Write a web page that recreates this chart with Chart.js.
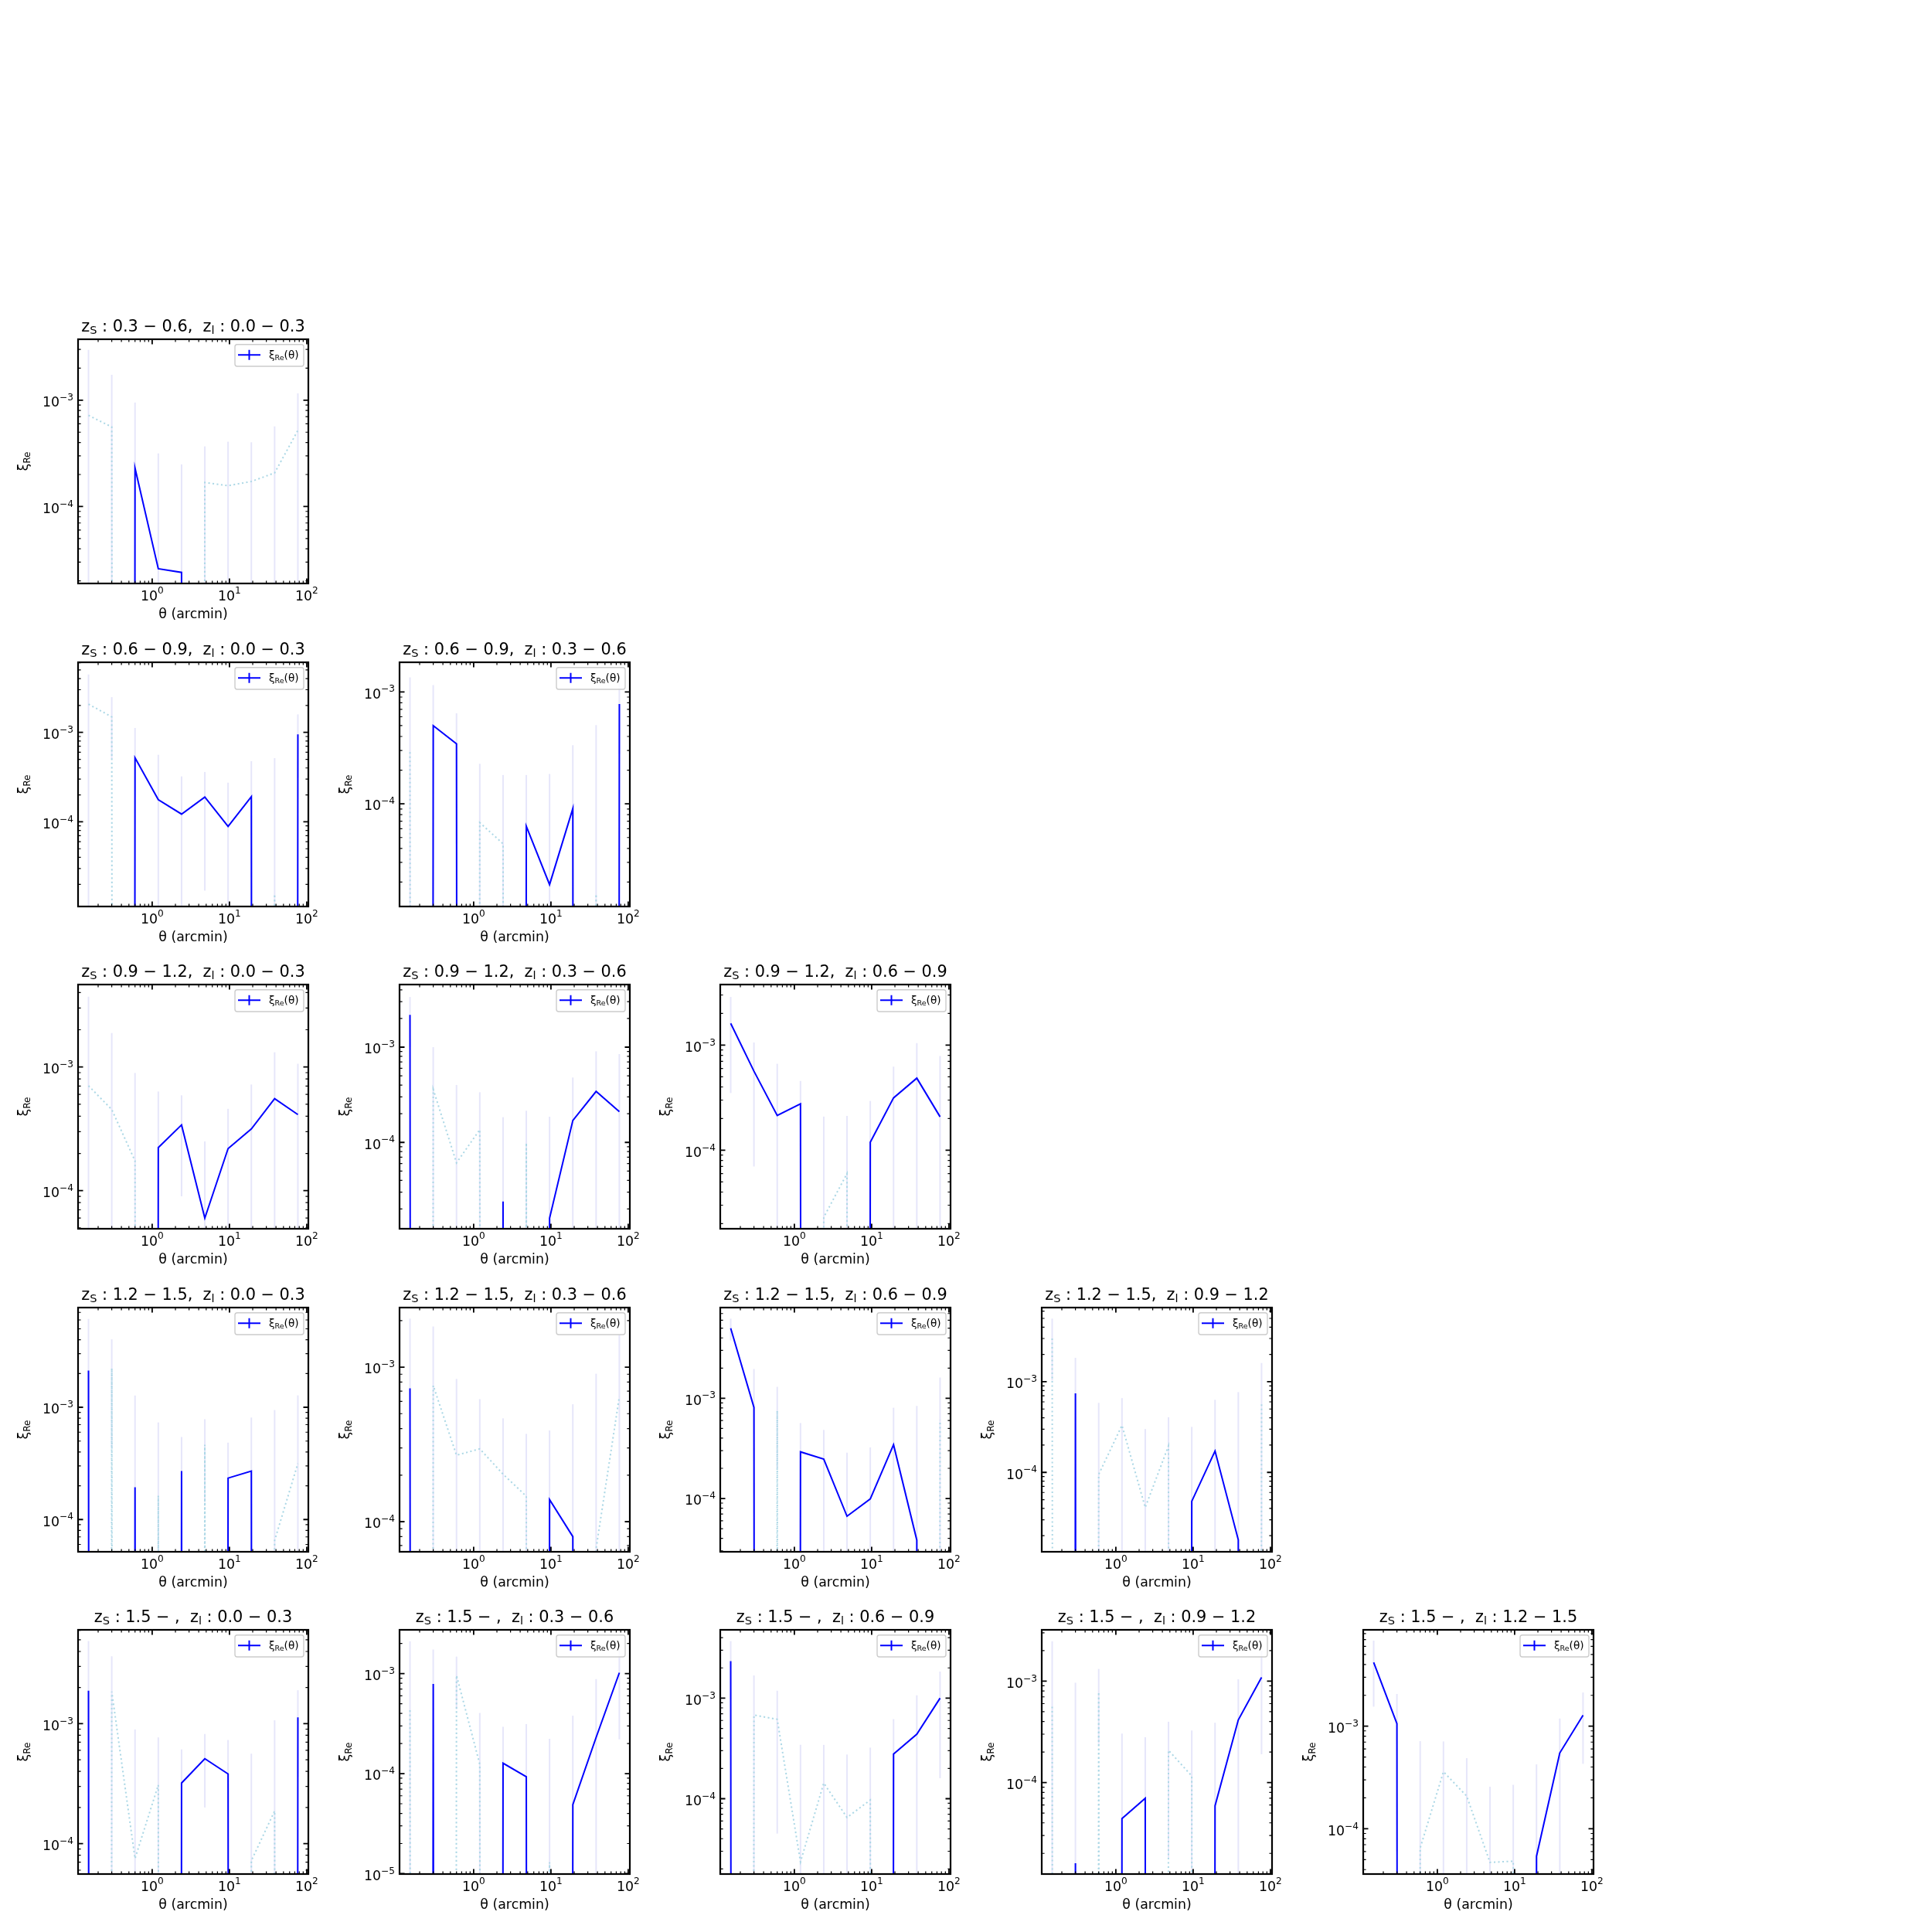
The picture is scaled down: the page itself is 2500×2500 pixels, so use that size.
<!DOCTYPE html>
<html>
<head>
<meta charset="utf-8">
<script src="https://cdn.jsdelivr.net/npm/chart.js@4.4.1/dist/chart.umd.min.js"></script>
<style>
  html, body { margin: 0; padding: 0; background: #ffffff; }
  body { width: 2500px; height: 2500px; position: relative; overflow: hidden; }
  canvas { position: absolute; }
</style>
</head>
<body>
<script>
// ---------------- data ----------------
const theta = [0.15, 0.3, 0.6, 1.2, 2.4, 4.8, 9.6, 19.2, 38.4, 76.8];
const zsLabels = ['0.3 − 0.6', '0.6 − 0.9', '0.9 − 1.2', '1.2 − 1.5', '1.5 − '];
const zlLabels = ['0.0 − 0.3', '0.3 − 0.6', '0.6 − 0.9', '0.9 − 1.2', '1.2 − 1.5'];
const xRange = [0.1099, 104.9];
const xTickValues = [1, 10, 100];
const xTickExponents = ['0', '1', '2'];
const yTickValues = [1e-5, 1e-4, 1e-3, 1e-2];
const yTickExponents = ['−5', '−4', '−3', '−2'];

// signed xi_Re(theta) and errors, per (source bin, lens bin)
const xi_s1_l0 = [-7.2e-4, -5.6e-4, 2.3e-4, 2.6e-5, 2.4e-5, -1.68e-4, -1.57e-4, -1.72e-4, -2.07e-4, -5.2e-4];
const err_s1_l0 = [2.25e-3, 1.17e-3, 7.2e-4, 2.9e-4, 2.25e-4, 2.0e-4, 2.5e-4, 2.3e-4, 3.6e-4, 6.4e-4];
const yr_s1_l0 = [1.89e-5, 3.74e-3];

const xi_s2_l0 = [-2.07e-3, -1.49e-3, 5.2e-4, 1.77e-4, 1.22e-4, 1.89e-4, 8.9e-5, 1.91e-4, -1.55e-5, 9.5e-4];
const err_s2_l0 = [2.37e-3, 9.9e-4, 6.0e-4, 3.85e-4, 2.0e-4, 1.72e-4, 1.85e-4, 2.86e-4, 5.0e-4, 6.4e-4];
const yr_s2_l0 = [1.13e-5, 6.08e-3];

const xi_s2_l1 = [-2.9e-4, 5.0e-4, 3.44e-4, -6.8e-5, -4.4e-5, 6.3e-5, 1.9e-5, 9.1e-5, -1.56e-5, 7.8e-4];
const err_s2_l1 = [1.06e-3, 6.5e-4, 3.0e-4, 1.6e-4, 1.37e-4, 1.18e-4, 1.66e-4, 2.43e-4, 4.9e-4, 5.0e-4];
const yr_s2_l1 = [1.21e-5, 1.84e-3];

const xi_s3_l0 = [-7.05e-4, -4.53e-4, -1.74e-4, 2.23e-4, 3.4e-4, 6.0e-5, 2.19e-4, 3.16e-4, 5.55e-4, 4.12e-4];
const err_s3_l0 = [2.99e-3, 1.43e-3, 7.2e-4, 4.1e-4, 2.5e-4, 1.9e-4, 2.4e-4, 4.06e-4, 7.6e-4, 6.5e-4];
const yr_s3_l0 = [4.92e-5, 4.64e-3];

const xi_s3_l1 = [2.18e-3, -3.6e-4, -6.1e-5, -1.36e-4, 2.4e-5, -9.9e-5, 1.6e-5, 1.7e-4, 3.43e-4, 2.1e-4];
const err_s3_l1 = [1.18e-3, 6.4e-4, 3.4e-4, 2.0e-4, 1.6e-4, 1.16e-4, 1.7e-4, 3.1e-4, 5.6e-4, 6.35e-4];
const yr_s3_l1 = [1.24e-5, 4.54e-3];

const xi_s3_l2 = [1.61e-3, 5.65e-4, 2.14e-4, 2.76e-4, -2.3e-5, -6.0e-5, 1.19e-4, 3.15e-4, 4.85e-4, 2.08e-4];
const err_s3_l2 = [1.26e-3, 4.95e-4, 4.5e-4, 1.8e-4, 1.86e-4, 1.52e-4, 1.75e-4, 3.1e-4, 5.6e-4, 5.8e-4];
const yr_s3_l2 = [1.79e-5, 3.77e-3];

const xi_s4_l0 = [2.12e-3, -2.23e-3, 1.94e-4, -1.63e-4, 2.7e-4, -4.63e-4, 2.34e-4, 2.7e-4, -6.5e-5, -3.16e-4];
const err_s4_l0 = [4.0e-3, 1.8e-3, 1.08e-3, 5.7e-4, 2.74e-4, 3.2e-4, 2.5e-4, 5.4e-4, 8.8e-4, 9.6e-4];
const yr_s4_l0 = [5.16e-5, 7.73e-3];

const xi_s4_l1 = [7.3e-4, -7.6e-4, -2.69e-4, -2.96e-4, -2.03e-4, -1.46e-4, 1.39e-4, 8.0e-5, -6.7e-5, -6.46e-4];
const err_s4_l1 = [1.33e-3, 1.07e-3, 5.7e-4, 3.25e-4, 2.63e-4, 2.24e-4, 2.5e-4, 4.95e-4, 8.4e-4, 9.8e-4];
const yr_s4_l1 = [6.38e-5, 2.43e-3];

const xi_s4_l2 = [5.0e-3, 8.1e-4, -7.5e-4, 2.92e-4, 2.47e-4, 6.65e-5, 9.9e-5, 3.44e-4, 3.84e-5, -6.1e-4];
const err_s4_l2 = [1.22e-3, 1.15e-3, 5.5e-4, 2.74e-4, 2.36e-4, 2.2e-4, 2.24e-4, 4.6e-4, 8.0e-4, 1.0e-3];
const yr_s4_l2 = [2.94e-5, 8.03e-3];

const xi_s4_l3 = [-3.0e-3, 7.45e-4, -9.5e-5, -3.3e-4, -4.1e-5, -1.96e-4, 4.8e-5, 1.72e-4, 1.8e-5, -5.8e-4];
const err_s4_l3 = [1.97e-3, 1.09e-3, 4.9e-4, 3.3e-4, 2.6e-4, 2.1e-4, 2.7e-4, 4.6e-4, 7.5e-4, 1.03e-3];
const yr_s4_l3 = [1.33e-5, 6.58e-3];

const xi_s5_l0 = [1.88e-3, -1.85e-3, -7.5e-5, -3.08e-4, 3.2e-4, 5.1e-4, 3.81e-4, -7.2e-5, -1.87e-4, 1.13e-3];
const err_s5_l0 = [3.0e-3, 1.8e-3, 8.2e-4, 4.6e-4, 2.9e-4, 3.1e-4, 3.5e-4, 4.9e-4, 8.8e-4, 7.7e-4];
const yr_s5_l0 = [5.57e-5, 6.06e-3];

const xi_s5_l1 = [-4.3e-4, 7.9e-4, -9.6e-4, -1.24e-4, 1.27e-4, 9.3e-5, -1.3e-5, 4.9e-5, 2.3e-4, 1.02e-3];
const err_s5_l1 = [1.68e-3, 9.5e-4, 5.2e-4, 2.8e-4, 1.67e-4, 2.2e-4, 2.1e-4, 3.3e-4, 6.5e-4, 8.0e-4];
const yr_s5_l1 = [9.9e-6, 2.74e-3];

const xi_s5_l2 = [2.33e-3, -6.8e-4, -6.15e-4, -2.35e-5, -1.43e-4, -6.5e-5, -9.7e-5, 2.78e-4, 4.38e-4, 1.0e-3];
const err_s5_l2 = [1.36e-3, 1.0e-3, 5.7e-4, 3.2e-4, 2.0e-4, 2.1e-4, 2.25e-4, 3.4e-4, 6.3e-4, 8.4e-4];
const yr_s5_l2 = [1.78e-5, 4.78e-3];

const xi_s5_l3 = [-5.6e-4, 1.6e-5, -7.8e-4, 4.4e-5, 7.0e-5, -2.08e-4, -1.16e-4, 5.9e-5, 4.15e-4, 1.09e-3];
const err_s5_l3 = [1.92e-3, 9.5e-4, 5.4e-4, 2.6e-4, 2.1e-4, 1.9e-4, 2.1e-4, 3.3e-4, 6.3e-4, 9.0e-4];
const yr_s5_l3 = [1.25e-5, 3.21e-3];

const xi_s5_l4 = [4.19e-3, 1.06e-3, -6.5e-5, -3.6e-4, -2.08e-4, -4.7e-5, -4.83e-5, 5.4e-5, 5.49e-4, 1.28e-3];
const err_s5_l4 = [2.64e-3, 1.0e-3, 6.5e-4, 3.5e-4, 2.8e-4, 2.1e-4, 2.2e-4, 3.7e-4, 6.4e-4, 8.5e-4];
const yr_s5_l4 = [3.62e-5, 8.7e-3];

// table of panels: [source bin index, lens bin index, xi, err, y-range]
const panels = [
  [0, 0, xi_s1_l0, err_s1_l0, yr_s1_l0],
  [1, 0, xi_s2_l0, err_s2_l0, yr_s2_l0],
  [1, 1, xi_s2_l1, err_s2_l1, yr_s2_l1],
  [2, 0, xi_s3_l0, err_s3_l0, yr_s3_l0],
  [2, 1, xi_s3_l1, err_s3_l1, yr_s3_l1],
  [2, 2, xi_s3_l2, err_s3_l2, yr_s3_l2],
  [3, 0, xi_s4_l0, err_s4_l0, yr_s4_l0],
  [3, 1, xi_s4_l1, err_s4_l1, yr_s4_l1],
  [3, 2, xi_s4_l2, err_s4_l2, yr_s4_l2],
  [3, 3, xi_s4_l3, err_s4_l3, yr_s4_l3],
  [4, 0, xi_s5_l0, err_s5_l0, yr_s5_l0],
  [4, 1, xi_s5_l1, err_s5_l1, yr_s5_l1],
  [4, 2, xi_s5_l2, err_s5_l2, yr_s5_l2],
  [4, 3, xi_s5_l3, err_s5_l3, yr_s5_l3],
  [4, 4, xi_s5_l4, err_s5_l4, yr_s5_l4]
];

// ---------------- layout / style ----------------
const colLefts = [101, 517, 932, 1348, 1764];
const rowTops = [439, 857, 1274, 1692, 2109];
const W = 298, H = 316;
const PL = 100, PR = 16, PT = 60, PB = 62;
const FONT = '"DejaVu Sans", sans-serif';
const F_TICK = 17.36, F_LABEL = 17.36, F_TITLE = 20.83, F_LEG = 13.6;
const CLIPVAL = 1e-300; // log-scale clip value for non-positive entries (like matplotlib)
const BLUE = '#0000ff', LIGHTBLUE = '#add8e6', LAVENDER = '#e6e6fa';

function drawRich(ctx, parts, x, y, align, F, color) {
  const segs = parts.map(([t, k]) => {
    const s = k ? 0.7 * F : F;
    ctx.font = s + 'px ' + FONT;
    return { t, k, s, w: ctx.measureText(t).width };
  });
  const total = segs.reduce((a, s) => a + s.w, 0);
  let cx = align === 'center' ? x - total / 2 : (align === 'right' ? x - total : x);
  ctx.textAlign = 'left';
  ctx.textBaseline = 'alphabetic';
  ctx.fillStyle = color || '#000';
  for (const s of segs) {
    ctx.font = s.s + 'px ' + FONT;
    const dy = s.k === 1 ? 0.15 * F : (s.k === 2 ? -0.47 * F : 0);
    ctx.fillText(s.t, cx, y + dy);
    cx += s.w;
  }
  return total;
}

function makePanel(sIdx, lIdx, xi, err, yr) {
  const left = colLefts[lIdx], top = rowTops[sIdx];
  const cv = document.createElement('canvas');
  cv.width = PL + W + PR;
  cv.height = PT + H + PB;
  cv.style.left = (left - PL) + 'px';
  cv.style.top = (top - PT) + 'px';
  cv.style.width = cv.width + 'px';
  cv.style.height = cv.height + 'px';
  document.body.appendChild(cv);

  const titleParts = [['z', 0], ['S', 1], [' : ' + zsLabels[sIdx] + ',  z', 0], ['l', 1], [' : ' + zlLabels[lIdx], 0]];

  const decor = {
    id: 'decor',
    beforeDatasetsDraw(chart) {
      const { ctx, chartArea: a, scales: { x, y } } = chart;
      ctx.save();
      ctx.beginPath();
      ctx.rect(a.left, a.top, a.right - a.left, a.bottom - a.top);
      ctx.clip();
      ctx.strokeStyle = LAVENDER;
      ctx.lineWidth = 2;
      theta.forEach((t, i) => {
        const c = Math.abs(xi[i]);
        const hi = c + err[i], lo = c - err[i];
        const px = x.getPixelForValue(t);
        const pyHi = y.getPixelForValue(hi);
        const pyLo = lo > 0 ? y.getPixelForValue(lo) : a.bottom + 10;
        ctx.beginPath();
        ctx.moveTo(px, pyLo);
        ctx.lineTo(px, pyHi);
        ctx.stroke();
      });
      ctx.restore();
    },
    afterDatasetsDraw(chart) {
      const { ctx, chartArea: a, scales: { x, y } } = chart;
      ctx.save();
      // legend
      const bw = 89, bh = 28.3;
      const bx = a.right - 6 - bw, by = a.top + 6.7;
      ctx.beginPath();
      ctx.roundRect(bx, by, bw, bh, 3);
      ctx.fillStyle = 'rgba(255,255,255,0.8)';
      ctx.fill();
      ctx.strokeStyle = '#cccccc';
      ctx.lineWidth = 1.4;
      ctx.stroke();
      const hy = by + 13.6;
      ctx.strokeStyle = BLUE;
      ctx.lineWidth = 2;
      ctx.beginPath();
      ctx.moveTo(bx + 4, hy); ctx.lineTo(bx + 33, hy);
      ctx.moveTo(bx + 18.5, hy - 6.5); ctx.lineTo(bx + 18.5, hy + 6.5);
      ctx.stroke();
      drawRich(ctx, [['ξ', 0], ['Re', 1], ['(θ)', 0]], bx + 44, by + 18.5, 'left', F_LEG, '#000');

      // frame
      ctx.strokeStyle = '#000';
      ctx.lineWidth = 2.2;
      ctx.strokeRect(a.left, a.top, a.right - a.left, a.bottom - a.top);

      // ticks (inward, all four sides)
      const inX = v => v >= x.min * 0.9999 && v <= x.max * 1.0001;
      const inY = v => v >= y.min * 0.9999 && v <= y.max * 1.0001;
      const tickX = (v, len, lw) => {
        const px = x.getPixelForValue(v);
        ctx.lineWidth = lw;
        ctx.beginPath();
        ctx.moveTo(px, a.bottom); ctx.lineTo(px, a.bottom - len);
        ctx.moveTo(px, a.top); ctx.lineTo(px, a.top + len);
        ctx.stroke();
      };
      const tickY = (v, len, lw) => {
        const py = y.getPixelForValue(v);
        ctx.lineWidth = lw;
        ctx.beginPath();
        ctx.moveTo(a.left, py); ctx.lineTo(a.left + len, py);
        ctx.moveTo(a.right, py); ctx.lineTo(a.right - len, py);
        ctx.stroke();
      };
      for (let e = -2; e <= 2; e++) {
        const d = Math.pow(10, e);
        if (inX(d)) tickX(d, 6.5, 1.8);
        for (let m = 2; m <= 9; m++) if (inX(m * d)) tickX(m * d, 3.6, 1.2);
      }
      for (let e = -6; e <= -1; e++) {
        const d = Math.pow(10, e);
        if (inY(d)) tickY(d, 6.5, 1.8);
        for (let m = 2; m <= 9; m++) if (inY(m * d)) tickY(m * d, 3.6, 1.2);
      }
      ctx.restore();
    },
    afterDraw(chart) {
      const { ctx, chartArea: a, scales: { x, y } } = chart;
      ctx.save();
      // x tick labels
      xTickValues.forEach((v, i) => {
        if (v < x.min || v > x.max * 1.0001) return;
        const px = x.getPixelForValue(v);
        drawRich(ctx, [['10', 0], [xTickExponents[i], 2]], px, a.bottom + 21.5, 'center', F_TICK, '#000');
      });
      // y tick labels
      yTickValues.forEach((v, i) => {
        if (v < y.min * 0.9999 || v > y.max * 1.0001) return;
        const py = y.getPixelForValue(v);
        drawRich(ctx, [['10', 0], [yTickExponents[i], 2]], a.left - 6, py + 8.3, 'right', F_TICK, '#000');
      });
      // title
      drawRich(ctx, titleParts, (a.left + a.right) / 2, a.top - 10, 'center', F_TITLE, '#000');
      // x label
      drawRich(ctx, [['θ (arcmin)', 0]], (a.left + a.right) / 2, a.bottom + 45, 'center', F_LABEL, '#000');
      // y label (rotated)
      ctx.translate(a.left - 65, (a.top + a.bottom) / 2);
      ctx.rotate(-Math.PI / 2);
      drawRich(ctx, [['ξ', 0], ['Re', 1]], 0, 0, 'center', F_LABEL, '#000');
      ctx.restore();
    }
  };

  new Chart(cv, {
    type: 'line',
    data: {
      datasets: [
        {
          label: 'xi_pos',
          data: theta.map((t, i) => ({ x: t, y: xi[i] > 0 ? xi[i] : CLIPVAL })),
          borderColor: BLUE,
          borderWidth: 2,
          pointRadius: 0,
          tension: 0,
          fill: false,
          order: 0
        },
        {
          label: 'xi_neg',
          data: theta.map((t, i) => ({ x: t, y: xi[i] < 0 ? -xi[i] : CLIPVAL })),
          borderColor: LIGHTBLUE,
          borderWidth: 2,
          borderDash: [2.1, 3.4],
          pointRadius: 0,
          tension: 0,
          fill: false,
          order: 1
        }
      ]
    },
    options: {
      responsive: false,
      animation: false,
      devicePixelRatio: 1,
      events: [],
      layout: { padding: { left: PL, right: PR, top: PT, bottom: PB } },
      plugins: { legend: { display: false }, tooltip: { enabled: false }, title: { display: false } },
      scales: {
        x: { type: 'logarithmic', min: xRange[0], max: xRange[1], display: false },
        y: { type: 'logarithmic', min: yr[0], max: yr[1], display: false }
      }
    },
    plugins: [decor]
  });
}

panels.forEach(p => makePanel(p[0], p[1], p[2], p[3], p[4]));
</script>
</body>
</html>
